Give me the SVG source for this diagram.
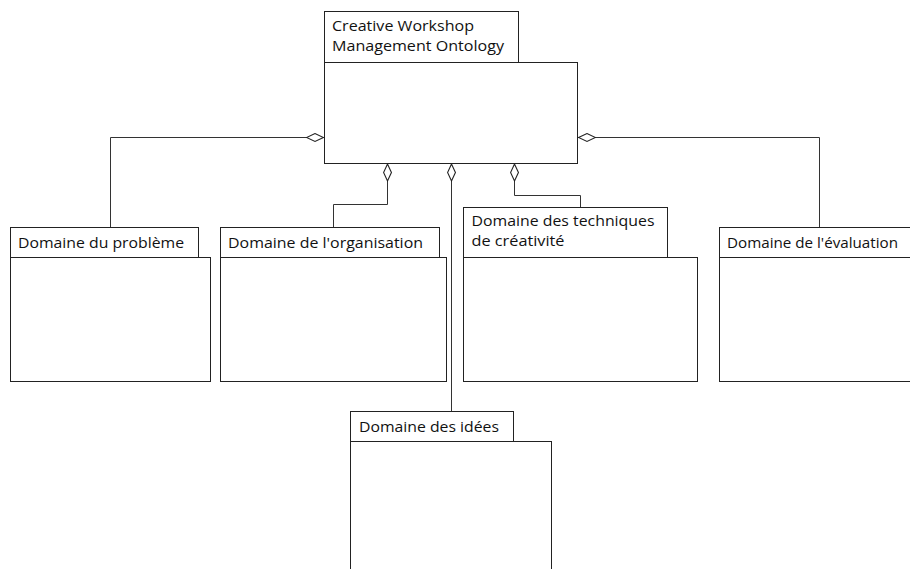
<svg xmlns="http://www.w3.org/2000/svg" width="910" height="569" viewBox="0 0 910 569">
<style>
.box{fill:#fff;stroke:#222;stroke-width:1}
.con{fill:none;stroke:#333;stroke-width:1}
.t{font-family:"Open Sans","Liberation Sans",Arial,sans-serif;font-size:15px;fill:#111}
.t2{font-size:14px}
</style>
<defs>
<marker id="dia" markerUnits="userSpaceOnUse" markerWidth="18" markerHeight="10" viewBox="0 0 16 8" refX="0" refY="4" orient="auto">
<path d="M0.5,4 L8,0.5 L15.5,4 L8,7.5 Z" fill="#fff" stroke="#222" stroke-width="1"/>
</marker>
</defs>
<rect width="910" height="569" fill="#fff"/>
<g id="connectors">
<path class="con" d="M324,137.5 H110.5 V227" marker-start="url(#dia)"/>
<path class="con" d="M387.5,163.5 V204.5 H333.5 V227" marker-start="url(#dia)"/>
<path class="con" d="M451.5,163.5 V411" marker-start="url(#dia)"/>
<path class="con" d="M514.5,163.5 V195.5 H580.5 V207" marker-start="url(#dia)"/>
<path class="con" d="M578,137.5 H819.5 V227" marker-start="url(#dia)"/>
</g>
<g id="cwmo">
<rect class="box" x="324.5" y="11.5" width="194" height="51"/>
<rect class="box" x="324.5" y="62.5" width="253" height="101"/>
<text class="t t2" x="332" y="30.5" textLength="142" lengthAdjust="spacingAndGlyphs">Creative Workshop</text>
<text class="t t2" x="332" y="50.5" textLength="172" lengthAdjust="spacingAndGlyphs">Management Ontology</text>
</g>
<g id="probleme">
<rect class="box" x="10.5" y="227.5" width="188" height="30"/>
<rect class="box" x="10.5" y="257.5" width="200" height="124"/>
<text class="t" x="18" y="248" textLength="166" lengthAdjust="spacingAndGlyphs">Domaine du problème</text>
</g>
<g id="organisation">
<rect class="box" x="220.5" y="227.5" width="219" height="30"/>
<rect class="box" x="220.5" y="257.5" width="226" height="124"/>
<text class="t" x="228" y="248" textLength="195" lengthAdjust="spacingAndGlyphs">Domaine de l'organisation</text>
</g>
<g id="techniques">
<rect class="box" x="463.5" y="207.5" width="204" height="50"/>
<rect class="box" x="463.5" y="257.5" width="234" height="124"/>
<text class="t t2" x="471.5" y="225.5" textLength="183" lengthAdjust="spacingAndGlyphs">Domaine des techniques</text>
<text class="t t2" x="471.5" y="246" textLength="93" lengthAdjust="spacingAndGlyphs">de créativité</text>
</g>
<g id="evaluation">
<rect class="box" x="719.5" y="227.5" width="200" height="30"/>
<rect class="box" x="719.5" y="257.5" width="200" height="124"/>
<text class="t" x="727" y="248" textLength="171" lengthAdjust="spacingAndGlyphs">Domaine de l'évaluation</text>
</g>
<g id="idees">
<rect class="box" x="350.5" y="411.5" width="163" height="30"/>
<rect class="box" x="350.5" y="441.5" width="201" height="140"/>
<text class="t" x="359" y="432" textLength="140" lengthAdjust="spacingAndGlyphs">Domaine des idées</text>
</g>
</svg>
